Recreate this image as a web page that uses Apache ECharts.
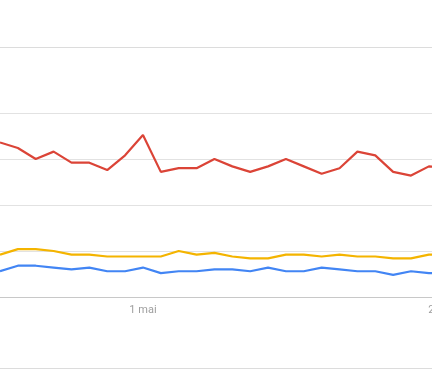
<!DOCTYPE html>
<html>
<head>
<meta charset="utf-8">
<style>
html,body{margin:0;padding:0;background:#fff;overflow:hidden;}
#chart{width:432px;height:369px;}
</style>
<script src="https://cdn.jsdelivr.net/npm/echarts@6/dist/echarts.min.js"></script>
</head>
<body>
<div id="chart"></div>
<script>
// categories (index 8 is "1 mai"; index 25 label is cut off at the right edge)
var categories = [];
for (var i = 0; i < 27; i++) { categories.push(String(i)); }
var tickLabels = { 8: '1 mai', 25: '28 août' };

var redValues    = [84,81,75,79,73,73,69,77,88,68,70,70,75,71,68,71,75,71,67,70,79,77,68,66,71,70,72];
var yellowValues = [23,26,26,25,23,23,22,22,22,22,25,23,24,22,21,21,23,23,22,23,22,22,21,21,23,23,22];
var blueValues   = [14,17,17,16,15,16,14,14,16,13,14,14,15,15,14,16,14,14,16,15,14,14,12,14,13,13,14];

var chart = echarts.init(document.getElementById('chart'), null, {renderer: 'canvas'});
var step = 17.87;
var gridWidth = step * (categories.length - 1);
chart.setOption({
  animation: false,
  backgroundColor: '#ffffff',
  grid: { left: 0, top: 113, height: 184, width: gridWidth, containLabel: false, outerBoundsMode: 'none' },
  xAxis: {
    type: 'category',
    data: categories,
    boundaryGap: false,
    axisLine: { show: true, lineStyle: { color: '#c8c8c8', width: 1 } },
    axisTick: { show: false },
    splitLine: { show: false },
    axisLabel: {
      interval: 0,
      margin: 8,
      color: '#9e9e9e',
      fontSize: 11,
      fontFamily: 'Roboto, Arial, sans-serif',
      hideOverlap: false,
      formatter: function (v, idx) { return tickLabels[idx] || ''; }
    }
  },
  yAxis: {
    type: 'value',
    min: 0, max: 100, interval: 25,
    axisLine: { show: false },
    axisTick: { show: false },
    axisLabel: { show: false },
    splitLine: { lineStyle: { color: '#e2e2e2', width: 1 } }
  },
  graphic: [
    { type: 'line', shape: { x1: 0, y1: 47.5, x2: 432, y2: 47.5 }, style: { stroke: '#dcdcdc', lineWidth: 1 } },
    { type: 'line', shape: { x1: 0, y1: 368.5, x2: 432, y2: 368.5 }, style: { stroke: '#dcdcdc', lineWidth: 1 } }
  ],
  series: [
    { type: 'line', data: blueValues, showSymbol: false, lineStyle: { color: '#4285f4', width: 2.2 }, itemStyle: { color: '#4285f4' } },
    { type: 'line', data: yellowValues, showSymbol: false, lineStyle: { color: '#f4b400', width: 2.2 }, itemStyle: { color: '#f4b400' } },
    { type: 'line', data: redValues, showSymbol: false, lineStyle: { color: '#db4437', width: 2.2 }, itemStyle: { color: '#db4437' } }
  ]
});
</script>
</body>
</html>
